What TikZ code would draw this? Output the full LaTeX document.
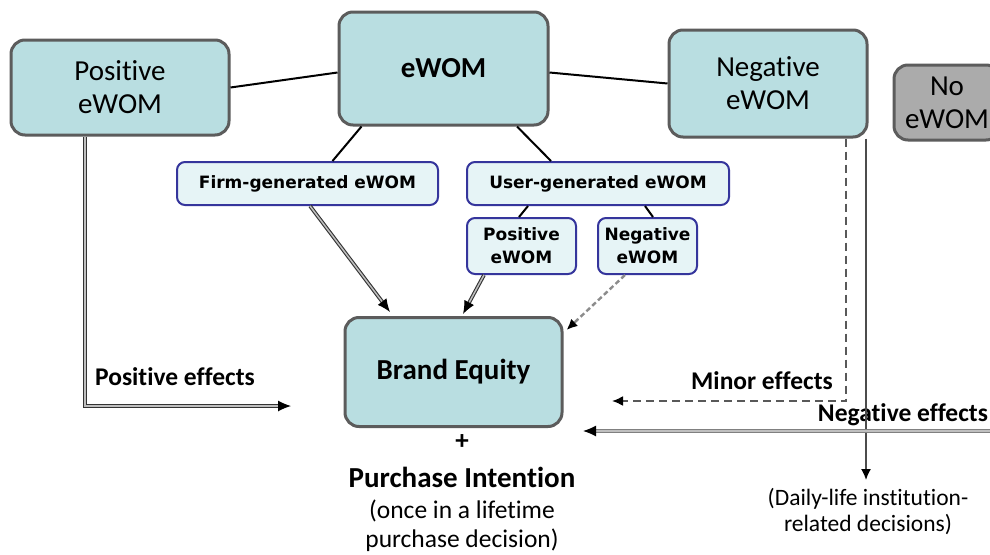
\documentclass[tikz,border=0pt]{standalone}
\usepackage{fontspec}
\setmainfont{Carlito}[Ligatures=NoCommon]
\newfontfamily\vfont{DejaVu Sans}
\usetikzlibrary{arrows.meta,calc}
\definecolor{bigfill}{HTML}{B9DEE1}
\definecolor{bigdraw}{HTML}{5C5C5C}
\definecolor{smallfill}{HTML}{E6F4F6}
\definecolor{smalldraw}{HTML}{35359C}
\definecolor{nofill}{HTML}{ABABAB}
\tikzset{
  bigbox/.style={draw=bigdraw, fill=bigfill, line width=3pt, rounded corners=14pt, align=center, inner sep=0pt, font=\fontsize{29}{33}\selectfont},
  smallbox/.style={draw=smalldraw, fill=smallfill, line width=2pt, rounded corners=8pt, align=center, inner sep=0pt, font=\vfont\bfseries\fontsize{17}{23}\selectfont},
  conn/.style={draw=black, line width=2pt},
  dblarrow/.style={draw=black!80, line width=1.1pt, double=white!75!black, double distance=1.5pt, -{Latex[length=13pt,width=11pt,color=black]}},
  effl/.style={font=\bfseries\fontsize{25.5}{28}\selectfont, inner sep=0pt},
  tipb/.style={-{Latex[length=11pt,width=10pt,color=black]}},
}
\begin{document}
\begin{tikzpicture}[x=1pt,y=-1pt]
\useasboundingbox[fill=white] (0,0) rectangle (990,554);
% big boxes
\node[bigbox, minimum width=218pt, minimum height=95pt] (posw) at (120,87.5) {Positive\\eWOM};
\node[bigbox, minimum width=209pt, minimum height=113pt, font=\bfseries\fontsize{29}{33}\selectfont] (ewom) at (443.5,68.5) {eWOM};
\node[bigbox, minimum width=198pt, minimum height=107pt] (negw) at (768,83.5) {Negative\\eWOM};
\node[bigbox, fill=nofill, minimum width=106pt, minimum height=75pt] (noew) at (947,102.5) {No\\eWOM};
\node[bigbox, minimum width=217pt, minimum height=109pt, font=\bfseries\fontsize{29}{33}\selectfont] (brand) at (453.5,372) {Brand Equity};
% small boxes
\node[smallbox, minimum width=261pt, minimum height=43pt] (firm) at (307.5,183.5) {Firm-generated eWOM};
\node[smallbox, minimum width=262pt, minimum height=43pt] (user) at (598,183.5) {User-generated eWOM};
\node[smallbox, minimum width=109pt, minimum height=56pt] (upos) at (521.5,246) {Positive\\eWOM};
\node[smallbox, minimum width=99pt, minimum height=56pt] (uneg) at (647.5,246) {Negative\\eWOM};
% texts below
\node[font=\bfseries\fontsize{27}{30}\selectfont, inner sep=0pt] (plus) at (462,442) {+};
\node[font=\bfseries\fontsize{29}{33}\selectfont, inner sep=0pt] (pint) at (462,477) {Purchase Intention};
\node[font=\fontsize{25.5}{30}\selectfont, inner sep=0pt] (once1) at (462,511) {(once in a lifetime};
\node[font=\fontsize{25.5}{30}\selectfont, inner sep=0pt] (once2) at (462,540) {purchase decision)};
\node[font=\fontsize{23.5}{26}\selectfont, align=center, inner sep=0pt] (daily) at (868,512) {(Daily-life institution-\\related decisions)};
% labels
\node[effl] (lpos) at (175,377) {Positive effects};
\node[effl] (lmin) at (762,381) {Minor effects};
\node[effl] (lneg) at (903,415) {Negative effects};
% coordinates
\coordinate (pe) at (291,406);
\coordinate (me) at (612,401);
\coordinate (nstart) at (1000,431);
\coordinate (ne) at (583,431);
\coordinate (dend) at (866,480);
% plain connectors
\draw[conn] (posw.east) -- ([yshift=-4pt]ewom.west);
\draw[conn] ([yshift=-4pt]ewom.east) -- (negw.west);
\draw[conn] ([xshift=-82pt]ewom.south) -- ([xshift=25pt]firm.north);
\draw[conn] ([xshift=73.5pt]ewom.south) -- ([xshift=-47pt]user.north);
\draw[conn] ([xshift=-70pt]user.south) -- ([xshift=-2.5pt]upos.north);
\draw[conn] ([xshift=47pt]user.south) -- ([xshift=5.5pt]uneg.north);
% arrows into brand
\draw[dblarrow] ([xshift=2.5pt]firm.south) -- ([xshift=-63.5pt,yshift=4pt]brand.north);
\draw[dblarrow] ([xshift=-37.5pt]upos.south) -- ([xshift=9.5pt,yshift=2pt]brand.north);
\draw[tipb, draw=black!45, line width=2.4pt, dash pattern=on 5pt off 3pt] ([xshift=-22.5pt]uneg.south) -- ([xshift=3pt,yshift=-14pt]brand.north east);
% effects
\draw[dblarrow] ([xshift=-35pt]posw.south) |- (pe);
\draw[tipb, draw=black!65, line width=2pt, dash pattern=on 8pt off 5pt] ([xshift=78pt]negw.south) |- (me);
\draw[tipb, draw=black!70, line width=1.6pt] ([xshift=98pt]negw.south) -- (dend);
\draw[dblarrow, draw=black!50, double=black!25, line width=1.2pt, double distance=1.4pt] (nstart) -- (ne);
\end{tikzpicture}
\end{document}
